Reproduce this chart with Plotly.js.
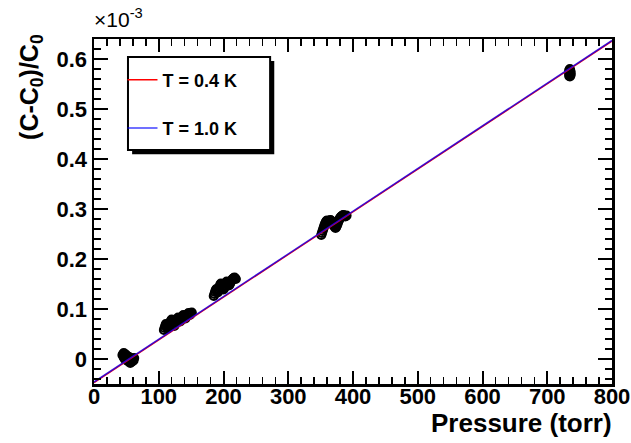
<!DOCTYPE html>
<html>
<head>
<meta charset="utf-8">
<script src="https://cdn.plot.ly/plotly-3.0.1.min.js"></script>
<style>html,body{margin:0;padding:0;background:#fff;}#chart{width:631px;height:443px;}</style>
</head>
<body>
<div id="chart"></div>
<script>
// Data (y in units of 1e-3)
var p1 = [44,45,46,47,48,49,50,51,52,53,54,55,56,57,58,59,60,61,62,46,48,50,52,54,56,58];
var y1 = [0.008,0.010,0.012,0.008,0.006,0.009,0.004,0.002,0.005,0.000,-0.002,0.003,-0.004,-0.006,-0.002,-0.005,0.001,-0.003,0.002,0.003,-0.001,0.007,-0.004,0.004,-0.008,0.000];
var p2 = [108,109,110,111,112,113,114,115,116,117,118,119,120,121,122,123,124,125,126,127,128,129,130,131,132,133,134,135,136,137,138,139,140,141,142,143,144,145,146,147,148,149,150,151];
var y2 = [0.058,0.062,0.066,0.070,0.068,0.064,0.061,0.063,0.066,0.070,0.074,0.077,0.079,0.076,0.072,0.068,0.066,0.069,0.072,0.075,0.078,0.081,0.083,0.080,0.077,0.075,0.077,0.080,0.083,0.086,0.088,0.086,0.083,0.081,0.083,0.086,0.088,0.090,0.092,0.090,0.088,0.090,0.092,0.093];
var p3 = [185,186,187,188,189,190,191,192,193,194,195,196,197,198,199,200,201,202,203,204,205,206,207,208,209,210,211,212,213,214,215,216,217,218,219];
var y3 = [0.126,0.130,0.134,0.138,0.140,0.136,0.133,0.136,0.140,0.145,0.149,0.151,0.148,0.144,0.141,0.139,0.142,0.146,0.150,0.153,0.155,0.152,0.149,0.147,0.148,0.151,0.154,0.156,0.158,0.160,0.161,0.162,0.163,0.161,0.160];
var p4 = [351,352,353,354,355,356,357,358,359,360,361,362,363,364,365,366,367,368,369,370,371,372,373,374,375,376,377,378,379,380,381,382,383,384,385,386,387,388,389,390];
var y4 = [0.248,0.252,0.256,0.260,0.264,0.268,0.271,0.274,0.276,0.277,0.274,0.271,0.273,0.276,0.278,0.277,0.275,0.272,0.270,0.268,0.266,0.264,0.262,0.264,0.267,0.270,0.274,0.277,0.280,0.282,0.284,0.285,0.286,0.287,0.288,0.287,0.286,0.285,0.286,0.287];
var p5 = [734,734,734,735,735,735,735,736,736,735,734,736];
var y5 = [0.566,0.570,0.578,0.568,0.573,0.577,0.565,0.571,0.575,0.580,0.574,0.568];
var fitP = [0, 800];
var fitRed = [-0.047, 0.636];
var fitBlue = [-0.046, 0.637];
var xTicks = [0,100,200,300,400,500,600,700,800];
var xTickText = ['0','100','200','300','400','500','600','700','800'];
var yTicks = [0,0.1,0.2,0.3,0.4,0.5,0.6];
var yTickText = ['0','0.1','0.2','0.3','0.4','0.5','0.6'];

var allP = [].concat(p1,p2,p3,p4,p5);
var allY = [].concat(y1,y2,y3,y4,y5);

var FONT = 'Liberation Sans';
function bold(a){ return a.map(function(s){ return '<b>' + s + '</b>'; }); }

var traces = [
  {x: allP, y: allY, type: 'scatter', mode: 'markers', showlegend: false,
   marker: {symbol: 'circle-open', size: 8, color: '#000', line: {width: 2.2, color: '#000'}}},
  {x: fitP, y: fitRed, type: 'scatter', mode: 'lines', name: '<b>T = 0.4 K</b>', legendgroup: 'a',
   line: {color: '#ff0000', width: 1.5}},
  {x: fitP, y: fitBlue, type: 'scatter', mode: 'lines', name: '<b>T = 1.0 K</b>', legendgroup: 'b',
   line: {color: '#0000ff', width: 1.5}, opacity: 0.75}
];

var layout = {
  width: 631, height: 443,
  margin: {l: 94, r: 19, t: 39, b: 59},
  paper_bgcolor: '#fff', plot_bgcolor: '#fff',
  font: {family: FONT, color: '#000'},
  xaxis: {
    showgrid: false, zeroline: false, showline: true, mirror: 'ticks',
    linecolor: '#000', linewidth: 2.5, ticks: 'inside', tickwidth: 2, tickcolor: '#000',
    tickfont: {family: FONT, size: 22, color: '#000', weight: 'bold'},
    ticklabelstandoff: -9, ticklabeloverflow: 'allow',
    range: [0, 800], tickvals: xTicks, ticktext: bold(xTickText), ticklen: 13,
    minor: {dtick: 20, ticklen: 7, tickwidth: 1.5, tickcolor: '#000', ticks: 'inside'}
  },
  yaxis: {
    showgrid: false, zeroline: false, showline: true, mirror: 'ticks',
    linecolor: '#000', linewidth: 2.5, ticks: 'inside', tickwidth: 2, tickcolor: '#000',
    tickfont: {family: FONT, size: 22, color: '#000', weight: 'bold'},
    range: [-0.05, 0.64], tickvals: yTicks, ticktext: bold(yTickText), ticklen: 14,
    minor: {dtick: 0.02, tick0: 0, ticklen: 7, tickwidth: 1.5, tickcolor: '#000', ticks: 'inside'}
  },
  showlegend: true,
  legend: {x: 0.055, y: 0.935, xanchor: 'left', yanchor: 'top', bgcolor: 'rgba(0,0,0,0)',
    borderwidth: 0, tracegroupgap: 22,
    font: {family: FONT, size: 18, color: '#000'}},
  shapes: [
    {type: 'rect', xref: 'paper', yref: 'paper', x0: 0.0656 + 0.008, x1: 0.340 + 0.008, y0: 0.678 - 0.012, y1: 0.948 - 0.012,
     fillcolor: '#000', line: {width: 0}, layer: 'above'},
    {type: 'rect', xref: 'paper', yref: 'paper', x0: 0.0656, x1: 0.340, y0: 0.678, y1: 0.948,
     fillcolor: '#fff', line: {width: 2, color: '#000'}, layer: 'above'}
  ],
  annotations: [
    {text: '<b>Pressure (torr)</b>', xref: 'paper', yref: 'paper', x: 1.003, y: -0.114, xanchor: 'right', yanchor: 'middle',
     showarrow: false, font: {family: FONT, size: 26, color: '#000'}},
    {text: '<b>(C-C<sub>0</sub>)/C<sub>0</sub></b>', xref: 'paper', yref: 'paper', x: -0.122, y: 1.02, xanchor: 'center', yanchor: 'top',
     textangle: -90, showarrow: false, font: {family: FONT, size: 25, color: '#000'}},
    {text: '×10<sup>-3</sup>', xref: 'paper', yref: 'paper', x: -0.004, y: 1.06, xanchor: 'left', yanchor: 'middle',
     showarrow: false, font: {family: FONT, size: 21, color: '#000'}}
  ]
};

Plotly.newPlot('chart', traces, layout, {staticPlot: true, displayModeBar: false});
</script>
</body>
</html>
